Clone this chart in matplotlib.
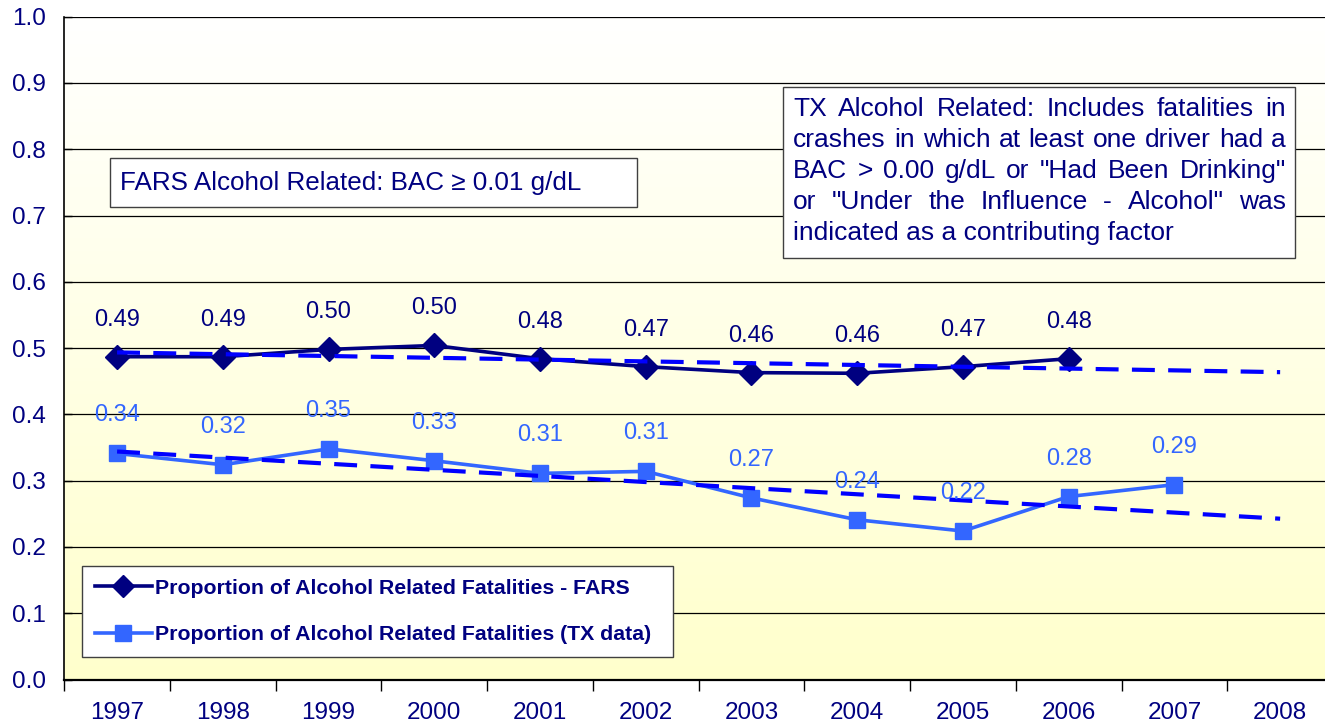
import numpy as np
import matplotlib
matplotlib.use('Agg')
import matplotlib.pyplot as plt
from matplotlib.patches import Rectangle
from matplotlib.lines import Line2D

# ---------------- data ----------------
years = ['1997', '1998', '1999', '2000', '2001', '2002', '2003', '2004',
         '2005', '2006', '2007', '2008']
fars_values = [0.487, 0.487, 0.498, 0.504, 0.484, 0.472, 0.463, 0.462, 0.472, 0.484]
tx_values = [0.341, 0.324, 0.348, 0.330, 0.311, 0.314, 0.274, 0.241, 0.224, 0.276, 0.294]
fars_labels = ['0.49', '0.49', '0.50', '0.50', '0.48', '0.47', '0.46', '0.46', '0.47', '0.48']
tx_labels = ['0.34', '0.32', '0.35', '0.33', '0.31', '0.31', '0.27', '0.24', '0.22', '0.28', '0.29']
y_ticks = [0.0, 0.1, 0.2, 0.3, 0.4, 0.5, 0.6, 0.7, 0.8, 0.9, 1.0]
legend_labels = ['Proportion of Alcohol Related Fatalities - FARS',
                 'Proportion of Alcohol Related Fatalities (TX data)']
fars_note = 'FARS Alcohol Related: BAC \u2265 0.01 g/dL'
tx_note_lines = ['TX Alcohol Related: Includes fatalities in',
                 'crashes in which at least one driver had a',
                 'BAC > 0.00 g/dL or "Had Been Drinking"',
                 'or "Under the Influence - Alcohol" was',
                 'indicated as a contributing factor']

# ---------------- style ----------------
plt.rcParams['font.family'] = ['Liberation Sans', 'DejaVu Sans']
NAVY = '#000080'
TXBLUE = '#3366FF'
TREND = '#0000FF'

W, H = 1325, 725
fig = plt.figure(figsize=(W / 100, H / 100), dpi=100)
fig.patch.set_facecolor('white')

ax_left, ax_right, ax_top, ax_bottom = 64.2, 1333.0, 16.7, 679.5
ax = fig.add_axes([ax_left / W, (H - ax_bottom) / H,
                   (ax_right - ax_left) / W, (ax_bottom - ax_top) / H])

n = len(years)
x_all = np.arange(n)

# background gradient: white at top to pale yellow at bottom
t = np.linspace(0, 1, 256)[:, None]
grad = np.dstack([np.ones_like(t), np.ones_like(t), 1 - 0.2 * t])
ax.imshow(grad, extent=(-0.5, n - 0.5, 0, 1), aspect='auto', zorder=0,
          interpolation='bilinear')

ax.set_xlim(-0.5, n - 0.5)
ax.set_ylim(0, 1.0)

# grid
ax.set_axisbelow(True)
ax.yaxis.grid(True, color='black', lw=0.9)
ax.xaxis.grid(False)

# series
xf = np.arange(len(fars_values))
xt = np.arange(len(tx_values))
ax.plot(xf, fars_values, color=NAVY, lw=2.6, marker='D', ms=12.5, zorder=3)
ax.plot(xt, tx_values, color=TXBLUE, lw=2.6, marker='s', ms=12, zorder=3)

# linear trendlines (Excel-style), extended to the last category
cf = np.polyfit(xf, fars_values, 1)
ct = np.polyfit(xt, tx_values, 1)
ax.plot(x_all, np.polyval(cf, x_all), color=TREND, lw=3, ls=(0, (5.5, 3.2)), zorder=4)
ax.plot(x_all, np.polyval(ct, x_all), color=TREND, lw=3, ls=(0, (5.5, 3.2)), zorder=4)

# data labels
for i, (v, s) in enumerate(zip(fars_values, fars_labels)):
    ax.annotate(s, (i, v), xytext=(0, 37), textcoords='offset pixels',
                ha='center', va='center', color=NAVY, fontsize=17, zorder=6)
for i, (v, s) in enumerate(zip(tx_values, tx_labels)):
    ax.annotate(s, (i, v), xytext=(0, 38), textcoords='offset pixels',
                ha='center', va='center', color=TXBLUE, fontsize=17, zorder=6)

# axes ticks
ax.set_yticks(y_ticks)
ax.set_yticklabels([f'{v:.1f}' for v in y_ticks])
ax.tick_params(axis='y', direction='in', length=6, width=1, pad=13,
               labelsize=17.5, labelcolor=NAVY, color='black')
ax.set_xticks(np.arange(-0.5, n, 1.0))
ax.set_xticklabels([])
ax.set_xticks(x_all, minor=True)
ax.set_xticklabels(years, minor=True)
ax.tick_params(axis='x', which='major', direction='out', length=8, width=1, color='black')
ax.tick_params(axis='x', which='minor', length=0, pad=16, labelsize=17.5, labelcolor=NAVY)

for side in ['top', 'right']:
    ax.spines[side].set_visible(False)
ax.spines['left'].set_color('black')
ax.spines['left'].set_linewidth(1.2)
ax.spines['bottom'].set_color('black')
ax.spines['bottom'].set_linewidth(1.6)

# legend
handles = [Line2D([], [], color=NAVY, lw=2.6, marker='D', ms=11),
           Line2D([], [], color=TXBLUE, lw=2.6, marker='s', ms=11.5)]
lx0 = (82 - ax_left) / (ax_right - ax_left)
lw_ = (673 - 82) / (ax_right - ax_left)
ly0 = (ax_bottom - 657) / (ax_bottom - ax_top)
leg = ax.legend(handles, legend_labels, loc='lower left',
                bbox_to_anchor=(lx0, ly0, lw_, 0.2), mode='expand',
                borderaxespad=0, prop={'weight': 'bold', 'size': 15.3},
                labelcolor=NAVY, handlelength=2.7, handletextpad=0.15,
                labelspacing=1.3, borderpad=0.6,
                fancybox=False, framealpha=1, edgecolor='#404040',
                facecolor='white')
leg.get_frame().set_linewidth(1.0)
leg.set_zorder(7)


def box(x1, y1, x2, y2):
    r = Rectangle((x1 / W, 1 - y2 / H), (x2 - x1) / W, (y2 - y1) / H,
                  transform=fig.transFigure, facecolor='white',
                  edgecolor='#404040', lw=1.0, zorder=8)
    fig.add_artist(r)


# FARS note box
box(110, 158, 637, 207)
fig.text(120 / W, 1 - 183 / H, fars_note, ha='left', va='center',
         fontsize=18.7, color=NAVY, zorder=9)

# TX note box with justified text
box(783, 87, 1295, 258)
renderer = fig.canvas.get_renderer()
tx_left, tx_right = 793, 1286
line_y0, line_dy = 109, 31
for li, line in enumerate(tx_note_lines):
    yc = 1 - (line_y0 + li * line_dy) / H
    if li == len(tx_note_lines) - 1:
        fig.text(tx_left / W, yc, line, ha='left', va='center',
                 fontsize=19, color=NAVY, zorder=9)
        continue
    words = line.split(' ')
    objs = [fig.text(0, yc, w, ha='left', va='center', fontsize=19,
                     color=NAVY, zorder=9) for w in words]
    widths = [o.get_window_extent(renderer).width for o in objs]
    gap = (tx_right - tx_left - sum(widths)) / (len(words) - 1)
    x = tx_left
    for o, wd in zip(objs, widths):
        o.set_x(x / W)
        x += wd + gap

fig.savefig('out.png', dpi=100, facecolor='white')
